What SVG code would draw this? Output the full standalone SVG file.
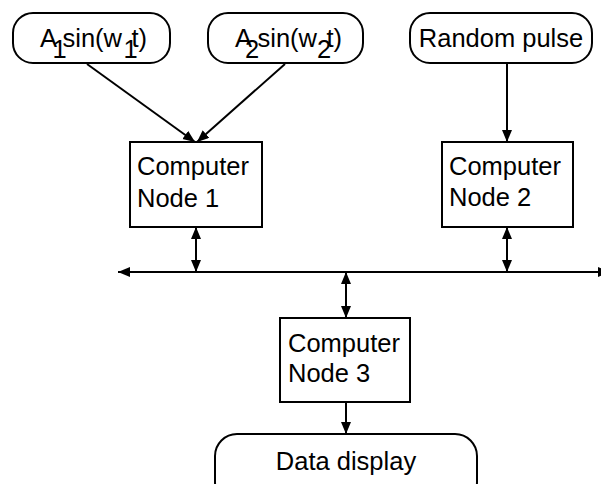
<svg xmlns="http://www.w3.org/2000/svg" width="601" height="484" viewBox="0 0 601 484">
<defs>
<marker id="ah" markerUnits="userSpaceOnUse" markerWidth="14" markerHeight="12" refX="12" refY="5" orient="auto-start-reverse">
<path d="M0,0 L12,5 L0,10 Z" fill="#000"/>
</marker>
<style>
.box{fill:#fff;stroke:#000;stroke-width:2}
.t{font-family:"Liberation Sans",Arial,sans-serif;font-size:25.5px;fill:#000}
.c{stroke:#000;stroke-width:2;fill:none}
</style>
</defs>
<rect width="601" height="484" fill="#fff"/>
<g id="connectors">
<line class="c" x1="87" y1="64" x2="195" y2="142" marker-end="url(#ah)"/>
<line class="c" x1="285" y1="64" x2="197" y2="142" marker-end="url(#ah)"/>
<line class="c" x1="507" y1="63" x2="507" y2="142" marker-end="url(#ah)"/>
<line class="c" x1="118" y1="272" x2="610" y2="272" marker-start="url(#ah)" marker-end="url(#ah)"/>
<line class="c" x1="196" y1="227" x2="196" y2="272" marker-start="url(#ah)" marker-end="url(#ah)"/>
<line class="c" x1="507" y1="227" x2="507" y2="272" marker-start="url(#ah)" marker-end="url(#ah)"/>
<line class="c" x1="346" y1="272" x2="346" y2="318" marker-start="url(#ah)" marker-end="url(#ah)"/>
<line class="c" x1="346" y1="402" x2="346" y2="434" marker-end="url(#ah)"/>
</g>
<g id="src1">
<rect class="box" x="13" y="13" width="157" height="50" rx="20"/>
<text class="t"><tspan x="40" y="46.5">A</tspan><tspan x="52.5" y="58">1</tspan><tspan x="62.5" y="46.5">sin(w</tspan><tspan x="123.5" y="58">1</tspan><tspan x="131.5" y="46.5">t)</tspan></text>
</g>
<g id="src2">
<rect class="box" x="208" y="13" width="155" height="50" rx="20"/>
<text class="t"><tspan x="235" y="46.5">A</tspan><tspan x="245" y="58">2</tspan><tspan x="257.5" y="46.5">sin(w</tspan><tspan x="317" y="58">2</tspan><tspan x="326.5" y="46.5">t)</tspan></text>
</g>
<g id="src3">
<rect class="box" x="410" y="13" width="182" height="50" rx="20"/>
<text class="t" x="501" y="46.5" text-anchor="middle">Random pulse</text>
</g>
<g id="node1">
<rect class="box" x="130" y="142" width="132" height="85"/>
<text class="t"><tspan x="137" y="175">Computer</tspan><tspan x="137" y="206.5">Node 1</tspan></text>
</g>
<g id="node2">
<rect class="box" x="442" y="142" width="131" height="85"/>
<text class="t"><tspan x="449" y="174.5">Computer</tspan><tspan x="449" y="206">Node 2</tspan></text>
</g>
<g id="node3">
<rect class="box" x="280" y="318" width="130" height="84"/>
<text class="t"><tspan x="288" y="351.5">Computer</tspan><tspan x="288" y="382">Node 3</tspan></text>
</g>
<g id="display">
<rect class="box" x="215" y="434" width="262" height="70" rx="22"/>
<text class="t" x="346" y="470" text-anchor="middle">Data display</text>
</g>
</svg>
